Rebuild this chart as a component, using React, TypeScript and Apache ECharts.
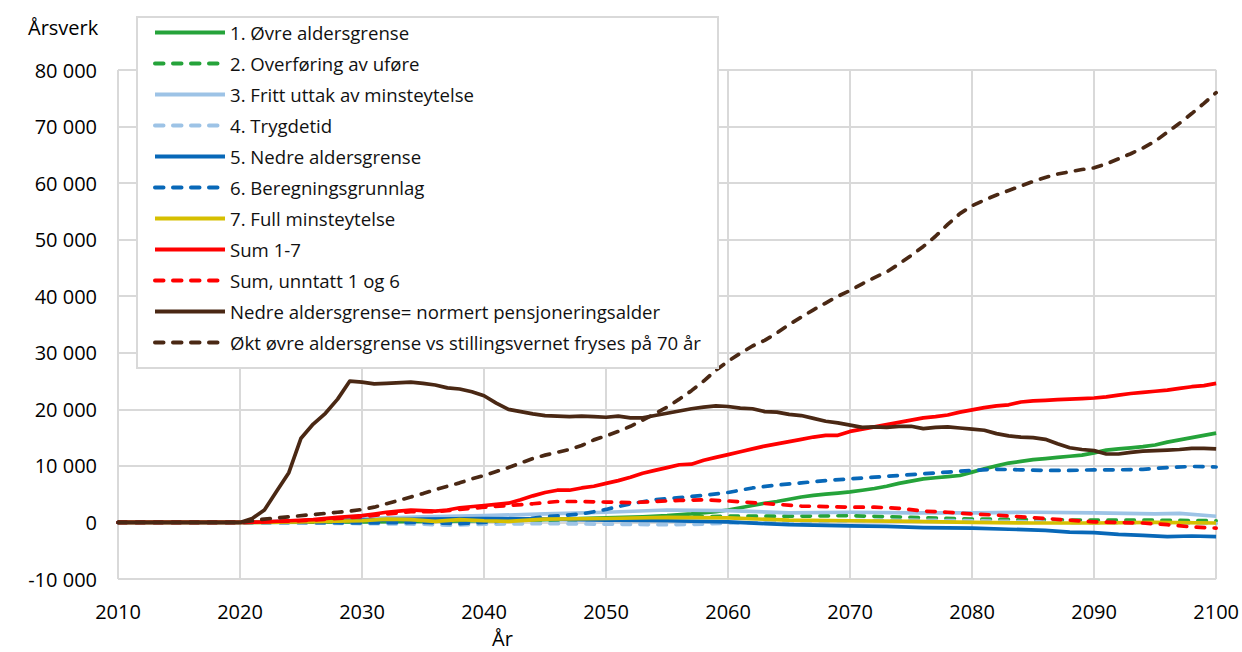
import React, { useEffect, useRef } from "react";
import * as echarts from "echarts";

// Data: [year, årsverk]
const seriesNames = [
  "1. Øvre aldersgrense",
  "2. Overføring av uføre",
  "3. Fritt uttak av minsteytelse",
  "4. Trygdetid",
  "5. Nedre aldersgrense",
  "6. Beregningsgrunnlag",
  "7. Full minsteytelse",
  "Sum 1-7",
  "Sum, unntatt 1 og 6",
  "Nedre aldersgrense= normert pensjoneringsalder",
  "Økt øvre aldersgrense vs stillingsvernet fryses på 70 år",
];

const ovreAldersgrense: [number, number][] = [
  [2010, 0], [2020, 0], [2030, 100], [2035, 200], [2040, 300], [2045, 500], [2050, 800], [2053, 1000],
  [2055, 1200], [2057, 1500], [2059, 1900], [2060, 2200], [2061, 2600], [2062, 3000], [2063, 3400],
  [2064, 3700], [2065, 4100], [2066, 4500], [2067, 4800], [2068, 5000], [2069, 5200], [2070, 5400],
  [2071, 5700], [2072, 6000], [2073, 6400], [2074, 6900], [2075, 7300], [2076, 7700], [2077, 7900],
  [2078, 8100], [2079, 8300], [2080, 8900], [2081, 9500], [2082, 10000], [2083, 10500], [2084, 10800],
  [2085, 11100], [2086, 11300], [2087, 11500], [2088, 11700], [2089, 11900], [2090, 12300], [2091, 12800],
  [2092, 13000], [2093, 13200], [2094, 13400], [2095, 13700], [2096, 14200], [2097, 14600], [2098, 15000],
  [2099, 15400], [2100, 15800],
];

const overforingUfore: [number, number][] = [
  [2010, 0], [2020, 0], [2030, 0], [2040, 200], [2045, 400], [2050, 600], [2055, 900], [2060, 1100],
  [2065, 1100], [2070, 1200], [2075, 900], [2080, 600], [2085, 500], [2090, 400], [2095, 400], [2100, 300],
];

const frittUttak: [number, number][] = [
  [2010, 0], [2020, 0], [2025, 300], [2030, 700], [2035, 1000], [2040, 1200], [2045, 1500], [2050, 1800],
  [2055, 2200], [2060, 2100], [2065, 1700], [2070, 1800], [2075, 1700], [2080, 1700], [2085, 1800],
  [2090, 1700], [2095, 1500], [2097, 1600], [2100, 1100],
];

const trygdetid: [number, number][] = [
  [2010, 0], [2020, 0], [2025, -100], [2030, -200], [2035, -300], [2037, -500], [2040, -300], [2045, -200],
  [2050, -300], [2055, -400], [2058, -300], [2060, -100], [2065, 100], [2070, 300], [2075, 400], [2080, 300],
  [2085, 100], [2090, -100], [2095, -100], [2100, -200],
];

const nedreAldersgrense: [number, number][] = [
  [2010, 0], [2020, 0], [2025, 200], [2030, 400], [2035, 600], [2040, 700], [2045, 600], [2050, 400],
  [2055, 300], [2060, 100], [2063, -200], [2065, -400], [2070, -600], [2073, -700], [2076, -900],
  [2080, -1000], [2083, -1200], [2086, -1400], [2088, -1700], [2090, -1800], [2092, -2100], [2094, -2300],
  [2096, -2500], [2098, -2400], [2100, -2500],
];

const beregningsgrunnlag: [number, number][] = [
  [2010, 0], [2020, 0], [2025, 0], [2030, -100], [2035, 0], [2038, -200], [2040, 0], [2043, 500],
  [2045, 1000], [2048, 1500], [2050, 2300], [2052, 3300], [2054, 4000], [2056, 4400], [2058, 4800],
  [2060, 5300], [2062, 6100], [2064, 6600], [2066, 7000], [2068, 7400], [2070, 7700], [2072, 8000],
  [2074, 8300], [2076, 8600], [2078, 8900], [2080, 9200], [2082, 9400], [2084, 9300], [2086, 9200],
  [2088, 9200], [2090, 9300], [2092, 9300], [2094, 9400], [2096, 9700], [2098, 9900], [2100, 9800],
];

const fullMinsteytelse: [number, number][] = [
  [2010, 0], [2020, 0], [2025, 100], [2030, 300], [2032, 600], [2034, 500], [2036, 200], [2038, 500],
  [2040, 300], [2042, 200], [2045, 600], [2050, 700], [2055, 900], [2060, 800], [2065, 400], [2070, 300],
  [2075, 200], [2080, 0], [2085, -100], [2090, -100], [2095, 0], [2100, -100],
];

const sum17: [number, number][] = [
  [2010, 0], [2020, 0], [2022, 100], [2024, 300], [2026, 500], [2028, 900], [2030, 1200], [2031, 1500],
  [2032, 1800], [2033, 2000], [2034, 2200], [2035, 2100], [2036, 2000], [2037, 2200], [2038, 2600],
  [2040, 3000], [2041, 3200], [2042, 3400], [2043, 4000], [2044, 4700], [2045, 5300], [2046, 5700],
  [2047, 5700], [2048, 6100], [2049, 6400], [2050, 6900], [2051, 7400], [2052, 8000], [2053, 8700],
  [2054, 9200], [2055, 9700], [2056, 10200], [2057, 10300], [2058, 11000], [2059, 11500], [2060, 12000],
  [2061, 12500], [2062, 13000], [2063, 13500], [2064, 13900], [2065, 14300], [2066, 14700], [2067, 15100],
  [2068, 15400], [2069, 15400], [2070, 16100], [2071, 16500], [2072, 16900], [2073, 17300], [2074, 17700],
  [2075, 18100], [2076, 18500], [2077, 18700], [2078, 19000], [2079, 19500], [2080, 19900], [2081, 20300],
  [2082, 20600], [2083, 20800], [2084, 21300], [2085, 21500], [2086, 21600], [2087, 21700], [2088, 21800],
  [2089, 21900], [2090, 22000], [2091, 22200], [2092, 22500], [2093, 22800], [2094, 23000], [2095, 23200],
  [2096, 23400], [2097, 23700], [2098, 24000], [2099, 24200], [2100, 24600],
];

const sumUnntatt: [number, number][] = [
  [2010, 0], [2020, 0], [2025, 300], [2028, 700], [2030, 1000], [2032, 1500], [2034, 1900], [2036, 1900],
  [2038, 2300], [2040, 2700], [2042, 3000], [2044, 3300], [2046, 3700], [2048, 3700], [2050, 3600],
  [2052, 3500], [2054, 3700], [2056, 3900], [2058, 4000], [2060, 3800], [2062, 3500], [2064, 3200],
  [2066, 2900], [2068, 2800], [2070, 2700], [2072, 2700], [2074, 2500], [2076, 2000], [2078, 1800],
  [2080, 1500], [2082, 1300], [2084, 1000], [2086, 700], [2088, 400], [2090, 100], [2092, 0], [2094, -100],
  [2096, -400], [2098, -800], [2100, -1000],
];

const normertPensjonering: [number, number][] = [
  [2010, 0], [2020, 0], [2021, 700], [2022, 2200], [2023, 5500], [2024, 8800], [2025, 14900], [2026, 17400],
  [2027, 19300], [2028, 21800], [2029, 25000], [2030, 24800], [2031, 24500], [2032, 24600], [2034, 24800],
  [2035, 24600], [2036, 24300], [2037, 23800], [2038, 23600], [2039, 23100], [2040, 22400], [2041, 21100],
  [2042, 20000], [2043, 19600], [2044, 19200], [2045, 18900], [2046, 18800], [2047, 18700], [2048, 18800],
  [2049, 18700], [2050, 18600], [2051, 18800], [2052, 18500], [2053, 18500], [2054, 18900], [2055, 19300],
  [2056, 19700], [2057, 20100], [2058, 20400], [2059, 20600], [2060, 20500], [2061, 20200], [2062, 20100],
  [2063, 19600], [2064, 19500], [2065, 19100], [2066, 18900], [2067, 18400], [2068, 17900], [2069, 17600],
  [2070, 17200], [2071, 16800], [2072, 16900], [2073, 16800], [2074, 17000], [2075, 17000], [2076, 16600],
  [2077, 16800], [2078, 16900], [2079, 16700], [2080, 16500], [2081, 16300], [2082, 15700], [2083, 15300],
  [2084, 15100], [2085, 15000], [2086, 14700], [2087, 13900], [2088, 13200], [2089, 12900], [2090, 12700],
  [2091, 12100], [2092, 12100], [2093, 12400], [2094, 12600], [2095, 12700], [2096, 12800], [2097, 12900],
  [2098, 13100], [2099, 13100], [2100, 13000],
];

const oktOvreAldersgrense: [number, number][] = [
  [2010, 0], [2020, 0], [2022, 600], [2024, 1000], [2026, 1400], [2028, 1800], [2029, 2000], [2030, 2300],
  [2031, 2700], [2032, 3300], [2033, 3900], [2034, 4500], [2035, 5100], [2036, 5800], [2037, 6400],
  [2038, 7000], [2039, 7700], [2040, 8300], [2041, 9000], [2042, 9700], [2043, 10500], [2044, 11300],
  [2045, 11900], [2046, 12400], [2047, 12900], [2048, 13600], [2049, 14600], [2050, 15300], [2051, 16100],
  [2052, 17000], [2053, 18100], [2054, 19200], [2055, 20400], [2056, 21800], [2057, 23300], [2058, 25000],
  [2059, 26900], [2060, 28500], [2061, 29900], [2062, 31200], [2063, 32200], [2064, 33500], [2065, 35000],
  [2066, 36300], [2067, 37600], [2068, 38800], [2069, 40000], [2070, 41000], [2071, 42200], [2072, 43300],
  [2073, 44300], [2074, 45700], [2075, 47200], [2076, 48800], [2077, 50600], [2078, 52700], [2079, 54600],
  [2080, 56000], [2081, 57000], [2082, 57900], [2083, 58700], [2084, 59500], [2085, 60300], [2086, 61000],
  [2087, 61600], [2088, 62000], [2089, 62400], [2090, 62700], [2091, 63400], [2092, 64300], [2093, 65200],
  [2094, 66200], [2095, 67400], [2096, 69000], [2097, 70600], [2098, 72300], [2099, 74100], [2100, 76000],
];

const seriesData = [
  ovreAldersgrense, overforingUfore, frittUttak, trygdetid, nedreAldersgrense, beregningsgrunnlag,
  fullMinsteytelse, sum17, sumUnntatt, normertPensjonering, oktOvreAldersgrense,
];
const seriesColors = [
  "#25A33A", "#25A33A", "#9DC3E6", "#9DC3E6", "#0868B8", "#0868B8",
  "#D6BF00", "#FF0000", "#FF0000", "#4A2814", "#4A2814",
];
const seriesDashed = [false, true, false, true, false, true, false, false, true, false, true];

const FONT = "'Open Sans', 'Noto Sans', sans-serif";

function fmt(v: number): string {
  const s = Math.abs(v).toString().replace(/\B(?=(\d{3})+(?!\d))/g, " ");
  return (v < 0 ? "-" : "") + s;
}

export default function App() {
  const ref = useRef<HTMLDivElement>(null);
  useEffect(() => {
    document.body.style.margin = "0";
    if (!ref.current) return;
    const chart = echarts.init(ref.current, undefined, { renderer: "svg" });
    chart.setOption({
      animation: false,
      backgroundColor: "#ffffff",
      textStyle: { fontFamily: FONT },
      grid: { left: 118, right: 24, top: 70, bottom: 73, containLabel: false },
      xAxis: {
        type: "value",
        min: 2010,
        max: 2100,
        interval: 10,
        axisLine: { show: true, lineStyle: { color: "#d9d9d9", width: 2 } },
        axisTick: { show: false },
        axisLabel: { fontSize: 20, color: "#000", margin: 22, fontFamily: FONT, formatter: (v: number) => String(v) },
        splitLine: { show: true, lineStyle: { color: "#d9d9d9", width: 2 } },
      },
      yAxis: {
        type: "value",
        min: -10000,
        max: 80000,
        interval: 10000,
        axisLine: { show: false },
        axisTick: { show: false },
        axisLabel: { fontSize: 20, color: "#000", margin: 21, fontFamily: FONT, formatter: fmt },
        splitLine: { show: true, lineStyle: { color: "#d9d9d9", width: 2 } },
      },
      legend: {
        orient: "vertical",
        left: 153,
        top: 23,
        padding: 0,
        itemWidth: 70,
        itemHeight: 14,
        itemGap: 12,
        itemStyle: { opacity: 0, borderWidth: 0 },
        lineStyle: { width: 4 },
        textStyle: { fontSize: 18.6, color: "#111", fontFamily: FONT },
        data: seriesNames,
        z: 5,
      },
      graphic: [
        {
          type: "rect",
          z: 4,
          shape: { x: 137, y: 17, width: 581, height: 351 },
          style: { fill: "#ffffff", stroke: "#d9d9d9", lineWidth: 2 },
        },
        { type: "text", left: 28, top: 17, style: { text: "Årsverk", fontSize: 20, fill: "#000", fontFamily: FONT } },
        { type: "text", left: 492, top: 628, style: { text: "År", fontSize: 20, fill: "#000", fontFamily: FONT } },
      ],
      series: seriesNames.map((name, i) => ({
        name,
        type: "line",
        data: seriesData[i],
        symbol: "none",
        showSymbol: false,
        color: seriesColors[i],
        lineStyle: {
          color: seriesColors[i],
          width: 3.7,
          type: seriesDashed[i] ? [8.5, 9.5] : "solid",
          cap: seriesDashed[i] ? "round" : "butt",
          join: "round",
        },
      })),
    });
    return () => chart.dispose();
  }, []);
  return <div ref={ref} style={{ width: 1242, height: 652 }} />;
}
